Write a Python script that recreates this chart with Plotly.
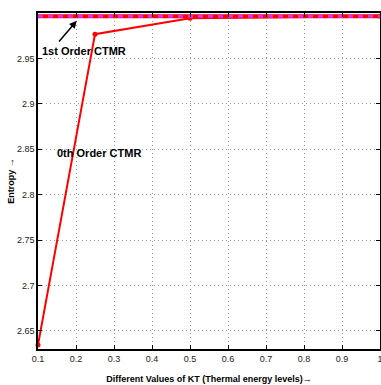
import plotly.graph_objects as go

kt = [0.1, 0.25, 0.5, 1.0]
entropy_0th = [2.6345, 2.9767, 2.9943, 2.9965]
kt_1st = [0.1, 1.0]
entropy_1st = [2.9965, 2.9965]

x_ticks = [0.1, 0.2, 0.3, 0.4, 0.5, 0.6, 0.7, 0.8, 0.9, 1.0]
x_labels = ["0.1", "0.2", "0.3", "0.4", "0.5", "0.6", "0.7", "0.8", "0.9", "1"]
y_ticks = [2.65, 2.7, 2.75, 2.8, 2.85, 2.9, 2.95]
y_labels = ["2.65", "2.7", "2.75", "2.8", "2.85", "2.9", "2.95"]

FONT = "Liberation Sans, Arial, sans-serif"

fig = go.Figure()
fig.add_trace(go.Scatter(x=kt, y=entropy_0th, mode="lines+markers",
                         line=dict(color="#ff0000", width=2),
                         marker=dict(color="#ff0000", size=5),
                         cliponaxis=False, showlegend=False))
fig.add_trace(go.Scatter(x=kt_1st, y=entropy_1st, mode="lines",
                         line=dict(color="#ff0000", width=4),
                         cliponaxis=False, showlegend=False))
fig.add_trace(go.Scatter(x=kt_1st, y=entropy_1st, mode="lines",
                         line=dict(color="#cc33ff", width=3, dash="5px,5px"),
                         cliponaxis=False, showlegend=False))

fig.add_annotation(x=0.202, y=2.9915, ax=0.152, ay=2.967, xref="x", yref="y",
                   axref="x", ayref="y", text="", showarrow=True,
                   arrowhead=2, arrowsize=1, arrowwidth=1.5, arrowcolor="black")
fig.add_annotation(x=0.104, y=2.9585, xref="x", yref="y", text="<b>1st Order CTMR</b>",
                   xanchor="left", showarrow=False,
                   font=dict(family=FONT, size=11, color="black"))
fig.add_annotation(x=0.145, y=2.846, xref="x", yref="y", text="<b>0th Order CTMR</b>",
                   xanchor="left", showarrow=False,
                   font=dict(family=FONT, size=11, color="black"))

axis_common = dict(showline=True, linecolor="black", linewidth=1.5, mirror="ticks",
                   ticks="inside", ticklen=4, tickcolor="black", tickwidth=1,
                   showgrid=True, gridcolor="#9a9a9a", griddash="1px,3px", gridwidth=1,
                   zeroline=False, automargin=False, ticklabeloverflow="allow",
                   tickfont=dict(family=FONT, size=9, color="#222222"))

fig.update_xaxes(range=[0.1, 1.0], tickvals=x_ticks, ticktext=x_labels,
                 title=dict(text="<b>Different Values of KT (Thermal energy levels)→</b>",
                            font=dict(family=FONT, size=9, color="black"), standoff=13),
                 **axis_common)
fig.update_yaxes(range=[2.63, 3.0], tickvals=y_ticks, ticktext=y_labels,
                 title=dict(text="<b>Entropy →</b>",
                            font=dict(family=FONT, size=9, color="black"), standoff=1),
                 **axis_common)

fig.update_layout(width=381, height=385, margin=dict(l=38, r=1, t=13, b=36),
                  plot_bgcolor="white", paper_bgcolor="white")

fig.write_html("out.html")
